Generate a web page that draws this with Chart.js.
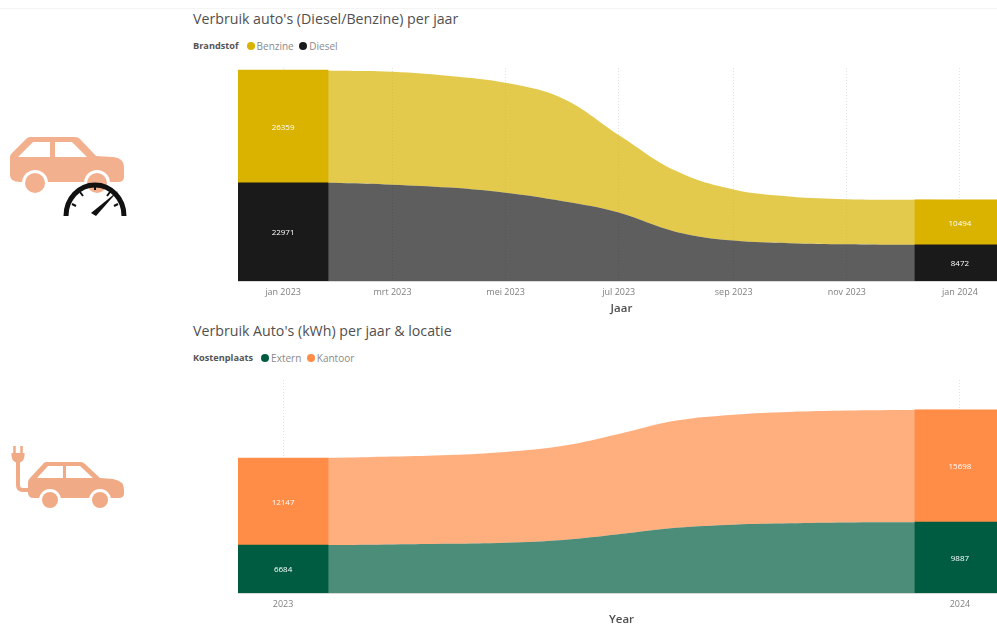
<!DOCTYPE html>
<html>
<head>
<meta charset="utf-8">
<title>Verbruik auto's</title>
<script src="https://cdn.jsdelivr.net/npm/chart.js@4"></script>
<style>
    html, body { margin: 0; padding: 0; background: #fff; overflow: hidden; width: 997px; height: 625px; }
    body { position: relative; font-family: "Open Sans", sans-serif; }
    .topline { position: absolute; left: 0; top: 8px; width: 997px; height: 1px; background: #f4f4f4; }
    .title { position: absolute; left: 193px; font-size: 14.2px; color: #505050; white-space: nowrap; line-height: 20px; }
    .legend { position: absolute; left: 193px; font-size: 10px; color: #8a8a8a; white-space: nowrap; line-height: 12px; display: flex; align-items: center; }
    .legend b { color: #555; font-weight: 700; font-size: 9.2px; margin-right: 8px; }
    .legend i { width: 8px; height: 8px; border-radius: 50%; margin-right: 2px; display: inline-block; }
    .legend span { margin-right: 5.5px; }
    canvas { position: absolute; left: 0; }
    svg { position: absolute; left: 0; top: 0; }
</style>
</head>
<body>
<div class="topline"></div>

<svg width="140" height="625" viewBox="0 0 140 625">
    <!-- benzine/diesel car -->
    <path fill="#f2b08f" fill-rule="evenodd" d="M30 137 L75 137 Q78 137 80 139 L96 156 L113 157 Q124 158 124 167 L124 177 Q124 182 118 182 L20 182 Q10 182 10 175 L10 157 Q10 155 12 153 L26 139 Q28 137 30 137 Z
        M18 157 L33 142 L50 142 L50 157 Z M55 142 L72 142 L87 157 L55 157 Z"/>
    <circle cx="35" cy="183" r="13" fill="#fff"/>
    <circle cx="97" cy="183" r="13" fill="#fff"/>
    <circle cx="35" cy="183" r="10" fill="#f2b08f"/>
    <circle cx="97" cy="183" r="10" fill="#f2b08f"/>
    <!-- gauge -->
    <path d="M66 216 A29 31 0 0 1 124 216" fill="none" stroke="#111" stroke-width="5"/>
    <path d="M72 204 L76 206 M80 192 L83 196 M95 185 L95 190 M110 192 L107 196 M118 204 L114 206" stroke="#111" stroke-width="2"/>
    <path d="M118 191 L96 216 L91 213 Z" fill="#111"/>

    <!-- electric car -->
    <path fill="none" stroke="#f0aa85" stroke-width="4" d="M18 462 L18 485 Q18 490 23 490 L30 490"/>
    <path fill="#f0aa85" d="M11.5 453 L24.5 453 L24.5 456 Q24 462 18 463 Q12 462 11.5 456 Z"/>
    <path stroke="#f0aa85" stroke-width="2.5" d="M14.5 446 L14.5 454 M21.5 446 L21.5 454"/>
    <path fill="#f0aa85" fill-rule="evenodd" d="M46 462 L81 462 Q83 462 85 464 L100 478 L113 479 Q124 481 124 489 L124 494 Q124 498 118 498 L34 498 Q28 498 28 493 L28 482 Q28 480 30 478 L43 464 Q44 462 46 462 Z
        M37 478 L48 466 L63 466 L63 478 Z M66 466 L80 466 L93 478 L66 478 Z"/>
    <circle cx="50" cy="500" r="11" fill="#fff"/>
    <circle cx="100" cy="500" r="11" fill="#fff"/>
    <circle cx="50" cy="500" r="8" fill="#f0aa85"/>
    <circle cx="100" cy="500" r="8" fill="#f0aa85"/>
</svg>

<div class="title" style="top:9px">Verbruik auto's (Diesel/Benzine) per jaar</div>
<div class="legend" style="top:40px"><b>Brandstof</b><i style="background:#d9b300"></i><span>Benzine</span><i style="background:#1a1a1a"></i><span>Diesel</span></div>
<canvas id="fuelChart" width="1005" height="248" style="top:68px"></canvas>

<div class="title" style="top:321px">Verbruik Auto's (kWh) per jaar &amp; locatie</div>
<div class="legend" style="top:352px"><b>Kostenplaats</b><i style="background:#005c41"></i><span>Extern</span><i style="background:#ff8c47"></i><span>Kantoor</span></div>
<canvas id="kwhChart" width="1005" height="247" style="top:380px"></canvas>

<script>
// days since 1 jan 2023, first of each month. the axis in the picture is a date axis
const days = [0, 31, 59, 90, 120, 151, 181, 212, 243, 273, 304, 334, 365];

const diesel = [22971, 22950, 22550, 21850, 20630, 18640, 16010, 11490, 9450, 8860, 8600, 8480, 8472];
const benzine = [26359, 26265, 26430, 26130, 25730, 24030, 18170, 14230, 11940, 10900, 10525, 10510, 10494];
const fuelTickDays = [0, 59, 120, 181, 243, 304, 365];
const fuelTicks = ['jan 2023', 'mrt 2023', 'mei 2023', 'jul 2023', 'sep 2023', 'nov 2023', 'jan 2024'];

const extern = [6684, 6710, 6780, 6865, 7020, 7410, 8205, 9110, 9545, 9740, 9850, 9880, 9887];
const kantoor = [12147, 12180, 12275, 12410, 12680, 13145, 14005, 14960, 15350, 15540, 15625, 15680, 15698];
const yearTickDays = [0, 365];
const yearTicks = ['2023', '2024'];

const FONT = '"Open Sans", sans-serif';

function toPoints(values) {
    return days.map((d, i) => ({ x: d, y: values[i] }));
}

// only first and last month get a solid block
function toBlocks(values) {
    return [
        { x: days[0], y: values[0] },
        { x: days[days.length - 1], y: values[values.length - 1] }
    ];
}

function ribbon(label, values, color, fill) {
    return {
        type: 'line',
        label: label,
        data: toPoints(values),
        backgroundColor: color,
        borderWidth: 0,
        pointRadius: 0,
        tension: 0.4,
        fill: fill,
        order: 1
    };
}

function block(label, values, color) {
    return {
        type: 'bar',
        label: label,
        data: toBlocks(values),
        backgroundColor: color,
        borderWidth: 0,
        barThickness: 90,
        order: 0
    };
}

// value labels in the middle of the solid blocks
const blockLabels = {
    id: 'blockLabels',
    afterDatasetsDraw(chart) {
        const ctx = chart.ctx;
        ctx.save();
        ctx.fillStyle = '#fff';
        ctx.font = '8px ' + FONT;
        ctx.textAlign = 'center';
        ctx.textBaseline = 'middle';
        chart.data.datasets.forEach((ds, i) => {
            if (ds.type !== 'bar') return;
            chart.getDatasetMeta(i).data.forEach((bar, j) => {
                ctx.fillText(ds.data[j].y, bar.x, (bar.y + bar.base) / 2 + 1);
            });
        });
        ctx.restore();
    }
};

function makeChart(id, datasets, yMax, tickDays, tickLabels, axisTitle, axisHeight) {
    return new Chart(document.getElementById(id), {
        type: 'line',
        data: { datasets: datasets },
        plugins: [blockLabels],
        options: {
            responsive: false,
            animation: false,
            layout: { padding: { left: 238 } },
            plugins: {
                legend: { display: false },
                title: { display: false },
                tooltip: { enabled: false }
            },
            scales: {
                y: { display: false, stacked: true, min: 0, max: yMax },
                x: {
                    type: 'linear',
                    stacked: true,
                    offset: false,
                    min: -24.3,
                    max: 389.3,
                    afterBuildTicks(scale) { scale.ticks = tickDays.map(d => ({ value: d })); },
                    afterFit(scale) { scale.height = axisHeight; },
                    grid: { color: '#e2e2e2', offset: false, drawTicks: false },
                    border: { color: '#d8d8d8', dash: [1, 2] },
                    ticks: {
                        autoSkip: false,
                        maxRotation: 0,
                        padding: 6,
                        color: '#808080',
                        font: { family: FONT, size: 9 },
                        callback: (value, index) => tickLabels[index]
                    },
                    title: {
                        display: true,
                        text: axisTitle,
                        color: '#505050',
                        padding: { top: 2, bottom: 0 },
                        font: { family: FONT, size: 11.5, weight: '600' }
                    }
                }
            }
        }
    });
}

makeChart('fuelChart', [
    ribbon('Diesel', diesel, 'rgba(26, 26, 26, 0.7)', 'origin'),
    ribbon('Benzine', benzine, 'rgba(217, 179, 0, 0.7)', '-1'),
    block('Diesel', diesel, '#1a1a1a'),
    block('Benzine', benzine, '#d9b300')
], 49840, fuelTickDays, fuelTicks, 'Jaar', 35);

makeChart('kwhChart', [
    ribbon('Extern', extern, 'rgba(0, 92, 65, 0.7)', 'origin'),
    ribbon('Kantoor', kantoor, 'rgba(255, 140, 71, 0.7)', '-1'),
    block('Extern', extern, '#005c41'),
    block('Kantoor', kantoor, '#ff8c47')
], 29735, yearTickDays, yearTicks, 'Year', 34);
</script>
</body>
</html>
